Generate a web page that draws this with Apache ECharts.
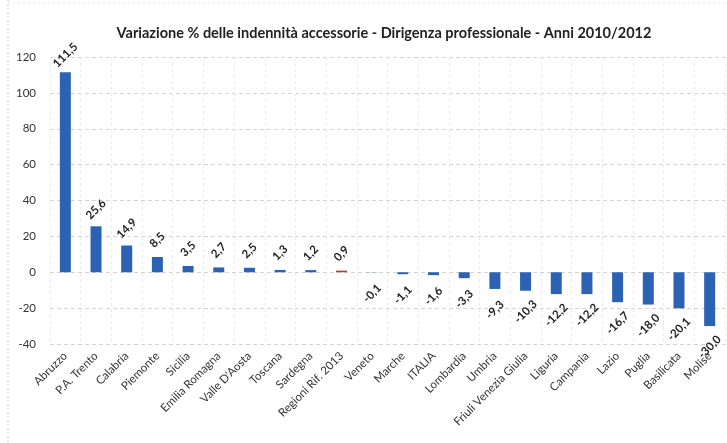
<!DOCTYPE html>
<html>
<head>
<meta charset="utf-8">
<script src="https://cdn.jsdelivr.net/npm/echarts@6/dist/echarts.min.js"></script>
<style>
  html, body { margin: 0; padding: 0; background: #fff; }
  #chart { width: 727px; height: 443px; }
</style>
</head>
<body>
<div id="chart"></div>
<script>
// Regions, ordered from largest increase to largest decrease
const regions = [
  'Abruzzo', 'P.A. Trento', 'Calabria', 'Piemonte', 'Sicilia', 'Emilia Romagna',
  "Valle D'Aosta", 'Toscana', 'Sardegna', 'Regioni Rif. 2013', 'Veneto', 'Marche',
  'ITALIA', 'Lombardia', 'Umbria', 'Friuli Venezia Giulia', 'Liguria', 'Campania',
  'Lazio', 'Puglia', 'Basilicata', 'Molise'
];
// Percentage change 2010/2012
const variation = [
  111.5, 25.6, 14.9, 8.5, 3.5, 2.7, 2.5, 1.3, 1.2, 0.9, -0.1, -1.1,
  -1.6, -3.3, -9.3, -10.3, -12.2, -12.2, -16.7, -18.0, -20.1, -30.0
];
// Reference aggregate highlighted in red
const highlighted = ['Regioni Rif. 2013'];
const yTicks = { min: -40, max: 120, interval: 20 };

const BLUE = '#2b62b3';
const RED = '#c0392b';
const FONT = 'Lato, "Open Sans", sans-serif';

const fmt = v => v.toFixed(1).replace('.', ',');

const barData = variation.map((v, i) => ({
  value: v,
  itemStyle: { color: highlighted.includes(regions[i]) ? RED : BLUE },
  label: {
    position: v >= 0 ? 'top' : 'bottom',
    distance: v >= 0 ? 17 : 21
  }
}));

const chart = echarts.init(document.getElementById('chart'), null, { renderer: 'canvas' });
chart.setOption({
  animation: false,
  backgroundColor: '#fff',
  title: {
    text: 'Variazione % delle indennità accessorie - Dirigenza professionale - Anni 2010/2012',
    left: 379,
    textAlign: 'center',
    top: 21,
    textStyle: { fontFamily: FONT, fontSize: 14.5, fontWeight: 'bold', color: '#222' }
  },
  graphic: [
    { type: 'line', shape: { x1: 8, y1: 0, x2: 8, y2: 443 },
      style: { stroke: '#cfcfcf', lineWidth: 1, lineDash: [2, 2] }, silent: true },
    { type: 'line', shape: { x1: 8, y1: 3, x2: 727, y2: 3 },
      style: { stroke: '#e2e2e2', lineWidth: 1, lineDash: [2, 3] }, silent: true }
  ],
  grid: { left: 50, right: 2, top: 57, bottom: 99 },
  xAxis: {
    type: 'category',
    data: regions,
    axisLine: { onZero: false, show: false },
    axisTick: { show: false },
    splitLine: { show: true, interval: 0, lineStyle: { color: '#ebebeb', type: [3, 3] } },
    axisLabel: {
      interval: 0,
      rotate: 45,
      margin: 10,
      fontFamily: FONT,
      fontSize: 11.5,
      color: '#333'
    }
  },
  yAxis: {
    type: 'value',
    min: yTicks.min,
    max: yTicks.max,
    interval: yTicks.interval,
    axisLine: { show: false },
    axisTick: { show: false },
    splitLine: { lineStyle: { color: '#d4d4d4', type: [4, 3] } },
    axisLabel: { fontFamily: FONT, fontSize: 11.5, color: '#333', margin: 14 }
  },
  series: [{
    type: 'bar',
    data: barData,
    barWidth: 11,
    label: {
      show: true,
      rotate: 45,
      align: 'center',
      verticalAlign: 'middle',
      fontFamily: FONT,
      fontSize: 11.5,
      fontWeight: 'bold',
      color: '#222',
      formatter: p => fmt(p.value)
    }
  }]
});
</script>
</body>
</html>
